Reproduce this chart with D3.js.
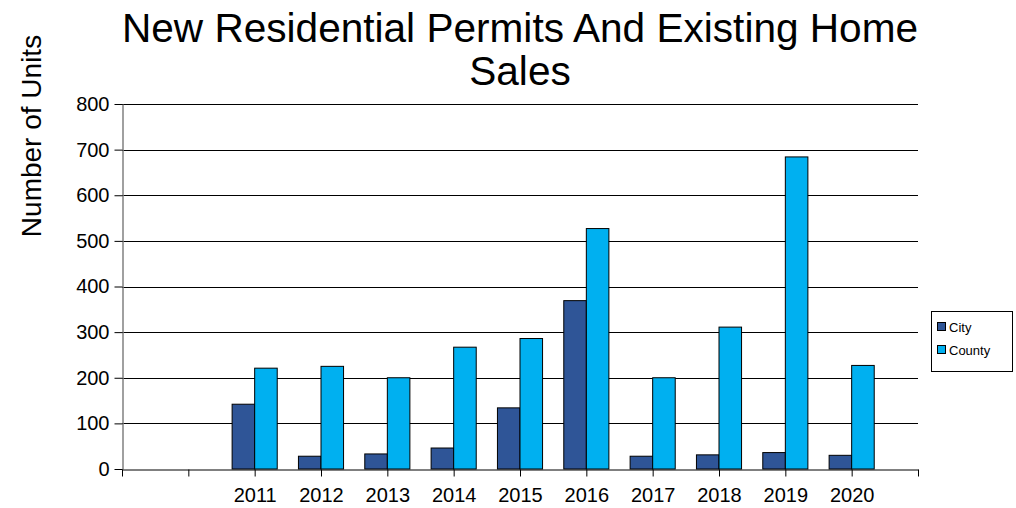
<!DOCTYPE html>
<html>
<head>
<meta charset="utf-8">
<script src="https://cdn.jsdelivr.net/npm/d3@7"></script>
<style>
  html, body { margin: 0; padding: 0; background: #fff; }
  svg { display: block; font-family: "Liberation Sans", Arial, sans-serif; }
</style>
</head>
<body>
<div id="chart"></div>
<script>
// categories: two empty slots then the years
const slots = ["", "", "2011", "2012", "2013", "2014", "2015", "2016", "2017", "2018", "2019", "2020"];
const years = ["2011", "2012", "2013", "2014", "2015", "2016", "2017", "2018", "2019", "2020"];
const cityValues = [142, 28, 33, 46, 134, 369, 28, 31, 36, 30];
const countyValues = [221, 225, 200, 267, 286, 527, 200, 311, 684, 227];
const yTicks = [0, 100, 200, 300, 400, 500, 600, 700, 800];
const seriesNames = ["City", "County"];
const seriesColors = ["#2f5597", "#00b0f0"];

const width = 1016, height = 508;
const plotLeft = 122, plotRight = 918, plotTop = 104, plotBottom = 469;

const svg = d3.select("#chart").append("svg")
    .attr("width", width)
    .attr("height", height);

const x = d3.scaleLinear().domain([0, slots.length]).range([plotLeft, plotRight]);
const y = d3.scaleLinear().domain([0, 800]).range([plotBottom, plotTop]);
const step = x(1) - x(0);
const barW = step * 0.34;

// gridlines
svg.append("g")
    .selectAll("line")
    .data(yTicks.filter(d => d > 0))
    .join("line")
    .attr("x1", plotLeft).attr("x2", plotRight)
    .attr("y1", d => Math.round(y(d)) + 0.5)
    .attr("y2", d => Math.round(y(d)) + 0.5)
    .attr("stroke", "#000")
    .attr("stroke-width", 1);

// y axis
const yAxis = svg.append("g")
    .attr("transform", `translate(${plotLeft + 0.5},0)`)
    .call(d3.axisLeft(y).tickValues(yTicks).tickSize(8).tickPadding(5).tickSizeOuter(0));
yAxis.select(".domain").attr("stroke", "#808080").attr("stroke-width", 1.5);
yAxis.selectAll(".tick line").attr("stroke", "#000");
yAxis.selectAll(".tick text")
    .attr("fill", "#000")
    .style("font-size", "20px")
    .style("font-family", "Liberation Sans, Arial, sans-serif");

// bars
const bars = svg.append("g");
years.forEach((yr, i) => {
    const cx = x(slots.indexOf(yr));
    [cityValues[i], countyValues[i]].forEach((v, s) => {
        bars.append("rect")
            .attr("x", s === 0 ? cx - barW : cx)
            .attr("y", y(v))
            .attr("width", barW)
            .attr("height", y(0) - y(v))
            .attr("fill", seriesColors[s])
            .attr("stroke", "#000")
            .attr("stroke-width", 1);
    });
});

// x axis
const xAxis = svg.append("g")
    .attr("transform", `translate(0,${plotBottom + 0.5})`)
    .call(d3.axisBottom(x)
        .tickValues(d3.range(0, slots.length + 1))
        .tickSize(7)
        .tickSizeOuter(0)
        .tickPadding(11)
        .tickFormat(i => slots[i] || ""));
xAxis.select(".domain").attr("stroke", "#000");
xAxis.selectAll(".tick line").attr("stroke", "#000");
xAxis.selectAll(".tick text")
    .attr("fill", "#000")
    .style("font-size", "20px")
    .style("font-family", "Liberation Sans, Arial, sans-serif");

// title
const title = svg.append("text")
    .attr("text-anchor", "middle")
    .attr("fill", "#000")
    .style("font-size", "40.6px");
title.append("tspan").attr("x", 520).attr("y", 42).text("New Residential Permits And Existing Home");
title.append("tspan").attr("x", 520).attr("y", 85).text("Sales");

// y label
svg.append("text")
    .attr("transform", "translate(41,136) rotate(-90)")
    .attr("text-anchor", "middle")
    .attr("fill", "#000")
    .style("font-size", "28px")
    .text("Number of Units");

// legend
const legend = svg.append("g").attr("transform", "translate(931,311)");
legend.append("rect")
    .attr("x", 0.5).attr("y", 0.5)
    .attr("width", 81).attr("height", 60)
    .attr("fill", "#fff").attr("stroke", "#000");
seriesNames.forEach((name, i) => {
    legend.append("rect")
        .attr("x", 6.5).attr("y", 11.5 + i * 23)
        .attr("width", 8).attr("height", 8)
        .attr("fill", seriesColors[i]).attr("stroke", "#000");
    legend.append("text")
        .attr("x", 18).attr("y", 20.5 + i * 23)
        .attr("fill", "#000")
        .style("font-size", "13px")
        .text(name);
});
</script>
</body>
</html>
